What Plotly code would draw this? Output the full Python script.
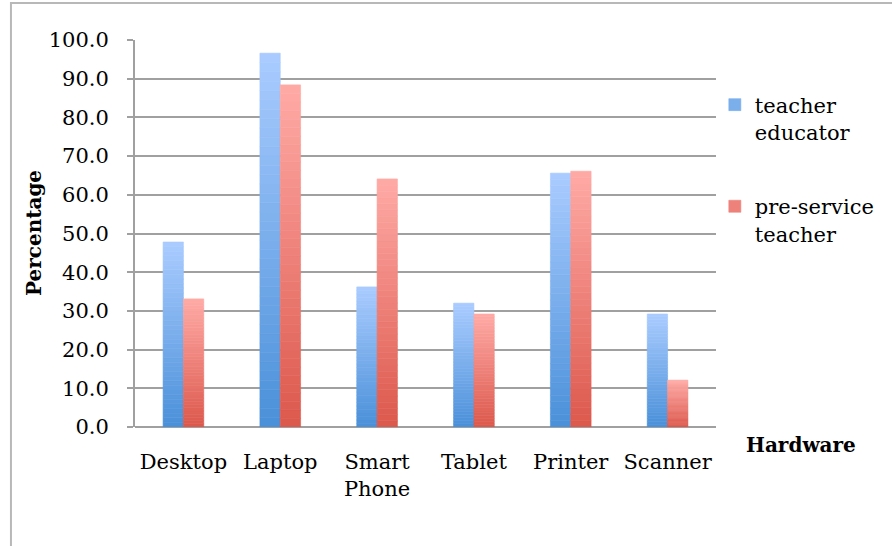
import plotly.graph_objects as go

categories = ["Desktop", "Laptop", "Smart<br>Phone", "Tablet", "Printer", "Scanner"]
teacher_educator = [47.8, 96.6, 36.2, 32.0, 65.6, 29.2]
pre_service_teacher = [33.1, 88.4, 64.1, 29.2, 66.1, 12.1]
y_ticks = [0, 10, 20, 30, 40, 50, 60, 70, 80, 90, 100]
y_tick_labels = [f"{v:.1f}" for v in y_ticks]

FONT = "DejaVu Serif"
GRID = "#a0a0a0"
N_SLICES = 40  # vertical gradient drawn as stacked slices of each bar

series = [
    ("teacher<br>educator", teacher_educator, "a", (74, 144, 217), (170, 204, 255)),
    ("pre-service<br>teacher", pre_service_teacher, "b", (220, 88, 76), (255, 170, 166)),
]


def mix(c0, c1, t):
    return "rgb(%d,%d,%d)" % tuple(round(a + (b - a) * t) for a, b in zip(c0, c1))


fig = go.Figure()
for name, values, grp, bottom, top in series:
    for k in range(N_SLICES):
        col = mix(bottom, top, (k + 0.5) / N_SLICES)
        fig.add_trace(go.Bar(
            x=categories,
            y=[v / N_SLICES for v in values],
            base=[v * k / N_SLICES for v in values],
            name=name, legendgroup=grp, offsetgroup=grp,
            showlegend=(k == N_SLICES // 2),
            marker=dict(color=col, line=dict(width=0.6, color=col)),
            hoverinfo="skip",
        ))

fig.update_layout(
    width=892, height=546,
    margin=dict(l=135, r=172, t=40, b=119),
    paper_bgcolor="white", plot_bgcolor="white",
    barmode="group", bargap=0.58, bargroupgap=0,
    font=dict(family=FONT, size=21, color="black"),
    showlegend=True,
    legend=dict(
        x=0.998, y=0.885, xanchor="left", yanchor="top",
        font=dict(family=FONT, size=21, color="black"),
        valign="top", traceorder="grouped", tracegroupgap=44, itemwidth=30,
        bgcolor="rgba(0,0,0,0)",
    ),
    xaxis=dict(
        showgrid=False, showline=False, ticks="", zeroline=False,
        tickfont=dict(family=FONT, size=21), ticklabelstandoff=20,
        automargin=False,
    ),
    yaxis=dict(
        range=[0, 100], tickvals=y_ticks, ticktext=y_tick_labels,
        showgrid=True, gridcolor=GRID, gridwidth=2,
        showline=True, linecolor=GRID, linewidth=2,
        ticks="outside", ticklen=6, tickcolor=GRID, tickwidth=2,
        zeroline=True, zerolinecolor=GRID, zerolinewidth=2,
        tickfont=dict(family=FONT, size=21), ticklabelstandoff=14,
        automargin=False,
    ),
    annotations=[
        dict(
            text="<b>Hardware</b>", xref="paper", yref="paper",
            x=1.147, y=-0.0465, xanchor="center", yanchor="middle",
            showarrow=False, font=dict(family=FONT, size=20),
        ),
        dict(
            text="<b>Percentage</b>", xref="paper", yref="paper",
            x=-0.174, y=0.501, xanchor="center", yanchor="middle",
            textangle=-90, showarrow=False, font=dict(family=FONT, size=20),
        ),
    ],
    shapes=[dict(
        type="rect", xref="paper", yref="paper",
        x0=-0.2135, x1=1.4, y0=-0.4, y1=1.0956,
        line=dict(color="#b8b8b8", width=2), fillcolor="rgba(0,0,0,0)", layer="below",
    )],
)

fig.write_html("out.html", config={"displayModeBar": False},
               post_script="document.body.style.margin='0';")
